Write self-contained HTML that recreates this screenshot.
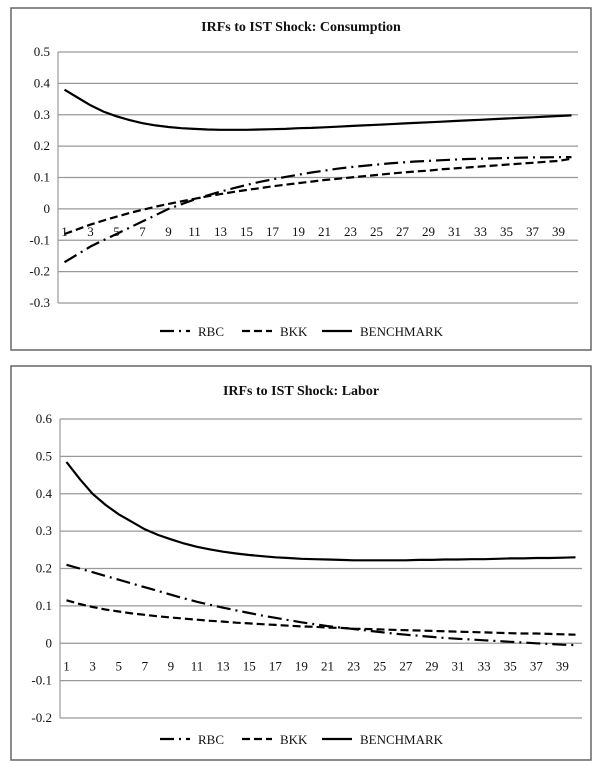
<!DOCTYPE html>
<html><head><meta charset="utf-8"><style>
body{margin:0;background:#fff;width:600px;height:766px;overflow:hidden}
svg text{font-family:"Liberation Serif",serif;fill:#111}
</style></head><body>
<svg id="s" width="600" height="766"></svg>
<script>
const cats=[];for(let i=1;i<=40;i++)cats.push(i);
const consBench=[0.38,0.355,0.33,0.31,0.295,0.283,0.273,0.266,0.261,0.257,0.255,0.253,0.252,0.252,0.252,0.253,0.254,0.255,0.257,0.258,0.26,0.262,0.264,0.266,0.268,0.27,0.272,0.274,0.276,0.278,0.28,0.282,0.284,0.286,0.288,0.29,0.292,0.294,0.296,0.298];
const consRBC=[-0.17,-0.145,-0.12,-0.1,-0.08,-0.06,-0.04,-0.02,0,0.015,0.03,0.043,0.055,0.066,0.076,0.086,0.094,0.102,0.109,0.116,0.122,0.128,0.133,0.137,0.141,0.145,0.148,0.151,0.153,0.155,0.157,0.159,0.16,0.161,0.162,0.163,0.164,0.164,0.165,0.165];
const consBKK=[-0.08,-0.065,-0.05,-0.037,-0.025,-0.013,-0.003,0.007,0.016,0.024,0.032,0.04,0.047,0.054,0.06,0.066,0.072,0.077,0.082,0.087,0.092,0.096,0.1,0.104,0.108,0.112,0.116,0.119,0.122,0.126,0.129,0.132,0.135,0.138,0.141,0.144,0.147,0.15,0.153,0.16];
const labBench=[0.485,0.44,0.4,0.37,0.345,0.325,0.305,0.29,0.278,0.267,0.258,0.251,0.245,0.24,0.236,0.233,0.23,0.228,0.226,0.225,0.224,0.223,0.222,0.222,0.222,0.222,0.222,0.223,0.223,0.224,0.224,0.225,0.225,0.226,0.227,0.227,0.228,0.228,0.229,0.23];
const labRBC=[0.21,0.2,0.19,0.18,0.17,0.16,0.15,0.14,0.13,0.12,0.111,0.103,0.095,0.088,0.081,0.074,0.068,0.062,0.056,0.051,0.046,0.042,0.038,0.034,0.03,0.026,0.023,0.02,0.017,0.014,0.012,0.01,0.008,0.006,0.004,0.002,0,-0.002,-0.004,-0.005];
const labBKK=[0.115,0.105,0.097,0.09,0.085,0.08,0.076,0.072,0.069,0.066,0.063,0.06,0.058,0.055,0.053,0.051,0.049,0.047,0.045,0.044,0.042,0.041,0.039,0.038,0.037,0.036,0.035,0.034,0.033,0.032,0.031,0.03,0.029,0.028,0.027,0.026,0.026,0.025,0.024,0.023];
const consTicks=[0.5,0.4,0.3,0.2,0.1,0,-0.1,-0.2,-0.3];
const labTicks=[0.6,0.5,0.4,0.3,0.2,0.1,0,-0.1,-0.2];
const NS="http://www.w3.org/2000/svg",svg=document.getElementById('s');
function mk(t,a,p){const e=document.createElementNS(NS,t);for(const k in a)e.setAttribute(k,a[k]);(p||svg).appendChild(e);return e;}
const styles={RBC:"14,5,2,5",BKK:"8,4",BENCHMARK:""};
function chart(cfg){
  const g=mk('g',{});
  
  
  const fr=mk('rect',{x:cfg.fx,y:cfg.fy,width:cfg.fw,height:cfg.fh,fill:'none',stroke:'#666','stroke-width':1.5},g);
  
  const t=mk('text',{x:(cfg.fx+cfg.fx+cfg.fw)/2,y:cfg.ty,'text-anchor':'middle','font-size':14,'font-weight':'bold'},g);t.textContent=cfg.title;
  
  const ymax=cfg.ticks[0],ymin=cfg.ticks[cfg.ticks.length-1];
  const Y=v=>cfg.top+(ymax-v)/(ymax-ymin)*(cfg.bot-cfg.top);
  const bw=(cfg.right-cfg.left)/cats.length;
  const X=i=>cfg.left+(i+0.5)*bw;
  cfg.ticks.forEach(v=>{
    const l=mk('line',{x1:cfg.left,x2:cfg.right,y1:Y(v),y2:Y(v),stroke:'#999','stroke-width':1.2},g);
    
    const tx=mk('text',{x:cfg.left-8,y:Y(v)+4,'text-anchor':'end','font-size':13},g);tx.textContent=v===0?'0':String(v);
    
  });
  const ax=mk('line',{x1:cfg.left,x2:cfg.left,y1:cfg.top,y2:cfg.bot,stroke:'#999','stroke-width':1.2},g);
  
  cats.forEach((c,i)=>{if(c%2===1){const tx=mk('text',{x:X(i),y:Y(0)+27,'text-anchor':'middle','font-size':13},g);tx.textContent=c;
    }});
  cfg.series.forEach(s=>{
    const d=s.vals.map((v,i)=>(i?'L':'M')+X(i).toFixed(1)+','+Y(v).toFixed(1)).join('');
    const p=mk('path',{d:d,fill:'none',stroke:'#000','stroke-width':2.2,'stroke-dasharray':styles[s.k]},g);
    
  });
  const lx=[160,242,322];
  ['RBC','BKK','BENCHMARK'].forEach((k,i)=>{
    const l=mk('line',{x1:lx[i],x2:lx[i]+30,y1:cfg.ly,y2:cfg.ly,stroke:'#000','stroke-width':2.2,'stroke-dasharray':styles[k]},g);
    
    const tx=mk('text',{x:lx[i]+38,y:cfg.ly+5,'font-size':13},g);tx.textContent=k;
    
  });
}
chart({name:'consumption-chart',title:'IRFs to IST Shock: Consumption',fx:11,fy:8,fw:580,fh:342,ty:31,left:58,right:578,top:52,bot:303,ly:331,ticks:consTicks,
  series:[{k:'BENCHMARK',vals:consBench},{k:'RBC',vals:consRBC},{k:'BKK',vals:consBKK}]});
chart({name:'labor-chart',title:'IRFs to IST Shock: Labor',fx:11,fy:366,fw:580,fh:394,ty:395,left:60,right:582,top:419,bot:718,ly:739,ticks:labTicks,
  series:[{k:'BENCHMARK',vals:labBench},{k:'RBC',vals:labRBC},{k:'BKK',vals:labBKK}]});
</script>
</body></html>
